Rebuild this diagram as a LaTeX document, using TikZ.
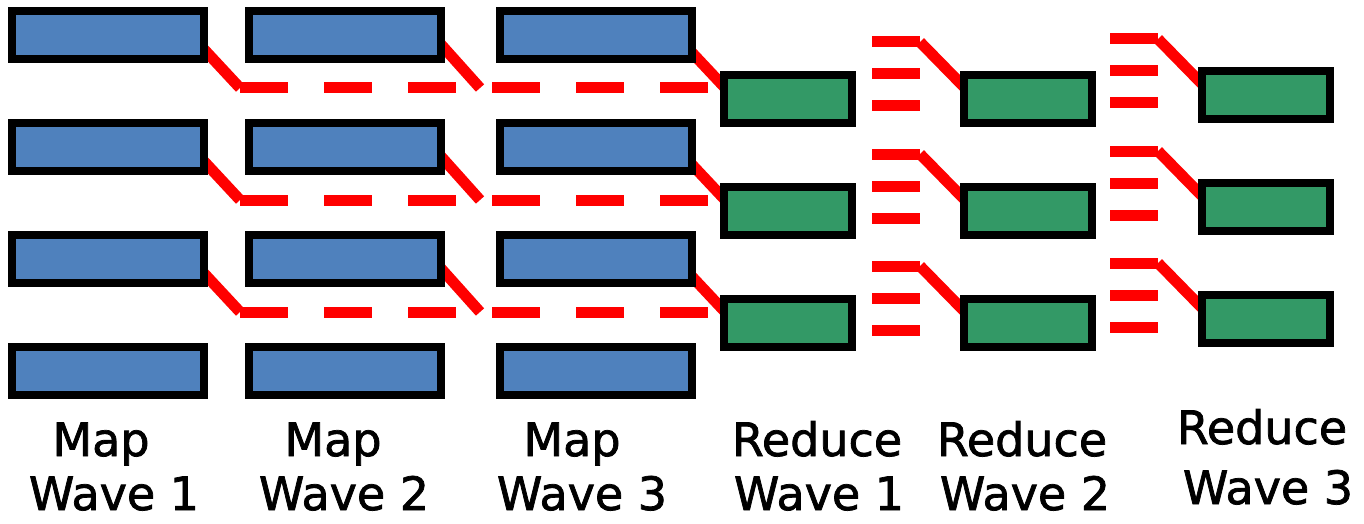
\documentclass[tikz,border=0pt]{standalone}
\usepackage{fontspec}
\setmainfont{DejaVu Sans}
\newfontfamily\lblfont[RawFeature={embolden=1.6}]{DejaVu Sans}
\usetikzlibrary{calc,backgrounds}
\definecolor{mapblue}{HTML}{4F81BD}
\definecolor{redgreen}{HTML}{339966}
\begin{document}
\begin{tikzpicture}[x=1pt,y=-1pt,
  mapbox/.style={draw=black, line width=8pt, fill=mapblue, minimum width=192pt, minimum height=48pt, inner sep=0pt, outer sep=0pt},
  redbox/.style={draw=black, line width=8pt, fill=redgreen, minimum width=128pt, minimum height=48pt, inner sep=0pt, outer sep=0pt},
  flow/.style={draw=red, line width=11pt},
  dflow/.style={flow, dash pattern=on 48pt off 36pt},
  lbl/.style={anchor=base, inner sep=0pt, font=\lblfont\fontsize{46}{54}\selectfont}]
\useasboundingbox (0,0) rectangle (1364,524);
% map boxes
\foreach \c/\x in {1/108,2/345,3/596}
  \foreach \r/\y in {1/35,2/147,3/259,4/371}
    \node[mapbox] (m\c\r) at (\x,\y) {};
% reduce boxes
\foreach \r/\y in {1/99,2/211,3/323} {
  \node[redbox] (ra\r) at (788,\y) {};
  \node[redbox] (rb\r) at (1028,\y) {};
  \node[redbox] (rc\r) at (1266,\y-4) {};
}
% connectors
\begin{pgfonlayer}{background}
\foreach \r in {1,2,3} {
  \coordinate (ms\r) at ($(m1\r.east)+(-4,10)$);
  \coordinate (mj\r) at ($(m1\r.east)+(36,53)$);
  \coordinate (me\r) at ($(mj\r)+(468,0)$);
  \coordinate (ns\r) at ($(m2\r.east)+(-4,5)$);
  \coordinate (nj\r) at ($(m2\r.east)+(39,53)$);
  \coordinate (os\r) at ($(m3\r.east)+(-10,7)$);
  \coordinate (oe\r) at ($(ra\r.west)+(4,-8)$);
  \draw[dflow] (mj\r) -- (me\r);
  \draw[flow] (ms\r) -- (mj\r);
  \draw[flow] (ns\r) -- (nj\r);
  \draw[flow] (os\r) -- (oe\r);
  % reduce wave 1 -> 2
  \coordinate (pa\r) at ($(rb\r.west)+(-92,-57)$);
  \coordinate (pb\r) at ($(rb\r.west)+(-44,-57)$);
  \coordinate (pc\r) at ($(rb\r.west)+(-92,-25)$);
  \coordinate (pd\r) at ($(rb\r.west)+(-44,-25)$);
  \coordinate (pe\r) at ($(rb\r.west)+(-92,7)$);
  \coordinate (pf\r) at ($(rb\r.west)+(-44,7)$);
  \coordinate (pg\r) at ($(rb\r.west)+(3,-9)$);
  \draw[flow] (pa\r) -- (pb\r);
  \draw[flow] (pb\r) -- (pg\r);
  \draw[flow] (pc\r) -- (pd\r);
  \draw[flow] (pe\r) -- (pf\r);
  % reduce wave 2 -> 3
  \coordinate (qa\r) at ($(rc\r.west)+(-92,-56)$);
  \coordinate (qb\r) at ($(rc\r.west)+(-44,-56)$);
  \coordinate (qc\r) at ($(rc\r.west)+(-92,-24)$);
  \coordinate (qd\r) at ($(rc\r.west)+(-44,-24)$);
  \coordinate (qe\r) at ($(rc\r.west)+(-92,8)$);
  \coordinate (qf\r) at ($(rc\r.west)+(-44,8)$);
  \coordinate (qg\r) at ($(rc\r.west)+(3,-8)$);
  \draw[flow] (qa\r) -- (qb\r);
  \draw[flow] (qb\r) -- (qg\r);
  \draw[flow] (qc\r) -- (qd\r);
  \draw[flow] (qe\r) -- (qf\r);
}
\end{pgfonlayer}
% labels
\node[lbl] (l1a) at (101,456) {Map};
\node[lbl] (l1b) at (114,510) {Wave 1};
\node[lbl] (l2a) at (333,456) {Map};
\node[lbl] (l2b) at (344,510) {Wave 2};
\node[lbl] (l3a) at (572,456) {Map};
\node[lbl] (l3b) at (582,510) {Wave 3};
\node[lbl] (l4a) at (817,456) {Reduce};
\node[lbl] (l4b) at (819,510) {Wave 1};
\node[lbl] (l5a) at (1022,456) {Reduce};
\node[lbl] (l5b) at (1025,510) {Wave 2};
\node[lbl] (l6a) at (1262,444) {Reduce};
\node[lbl] (l6b) at (1268,504) {Wave 3};
\end{tikzpicture}
\end{document}
